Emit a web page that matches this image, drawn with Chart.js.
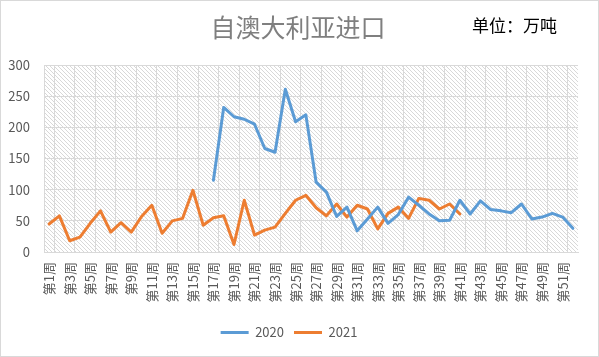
<!DOCTYPE html>
<html>
<head>
<meta charset="utf-8">
<script src="https://cdn.jsdelivr.net/npm/chart.js@4/dist/chart.umd.min.js"></script>
<style>
html,body{margin:0;padding:0;background:#fff;}
#wrap{width:599px;height:357px;position:relative;}
</style>
</head>
<body>
<div id="wrap"><canvas id="c" width="599" height="357"></canvas></div>
<script>
const weeks = [];
for (let i = 1; i <= 52; i++) weeks.push('第' + i + '周');

const series2020 = [
  null, null, null, null, null, null, null, null, null, null,
  null, null, null, null, null, null, 115, 232, 217, 213,
  205, 166, 160, 261, 209, 220, 112, 96, 57, 72,
  34, 53, 72, 46, 60, 88, 75, 61, 50, 51,
  83, 61, 82, 68, 66, 63, 77, 53, 56, 62,
  56, 38
];
const series2021 = [
  45, 58, 18, 24, 46, 66, 32, 47, 32, 57,
  75, 30, 50, 54, 99, 43, 55, 58, 12, 83,
  27, 35, 40, 62, 83, 91, 71, 58, 77, 56,
  75, 69, 37, 62, 72, 54, 86, 83, 69, 77,
  61
];
const yTicks = [0, 50, 100, 150, 200, 250, 300];

const FONT = '"Noto Sans CJK SC", "Noto Sans", sans-serif';

function makePattern(ctx) {
  const t = document.createElement('canvas');
  t.width = 4; t.height = 4;
  const tc = t.getContext('2d');
  tc.fillStyle = '#ffffff';
  tc.fillRect(0, 0, 4, 4);
  tc.fillStyle = '#d8d8d8';
  for (let i = 0; i < 4; i++) tc.fillRect(i, i, 1, 1);
  return ctx.createPattern(t, 'repeat');
}

const decor = {
  id: 'decor',
  beforeDraw(chart) {
    const ctx = chart.ctx;
    const a = chart.chartArea;
    ctx.save();
    ctx.fillStyle = '#ffffff';
    ctx.fillRect(0, 0, chart.width, chart.height);
    ctx.fillStyle = makePattern(ctx);
    ctx.fillRect(a.left, a.top, a.right - a.left, a.bottom - a.top);
    ctx.restore();
  },
  afterDraw(chart) {
    const ctx = chart.ctx;
    ctx.save();
    ctx.textBaseline = 'middle';
    ctx.textAlign = 'center';
    ctx.fillStyle = '#7f7f7f';
    ctx.font = '25px ' + FONT;
    ctx.fillText('自澳大利亚进口', 298, 27);
    ctx.textAlign = 'left';
    ctx.fillStyle = '#000000';
    ctx.font = '17px ' + FONT;
    ctx.fillText('单位：万吨', 472, 26);
    ctx.strokeStyle = '#d9d9d9';
    ctx.lineWidth = 1;
    ctx.strokeRect(0.5, 0.5, chart.width - 1, chart.height - 1);
    ctx.restore();
  }
};

new Chart(document.getElementById('c'), {
  type: 'line',
  data: {
    labels: weeks,
    datasets: [
      {
        label: '2020',
        data: series2020,
        borderColor: '#5B9BD5',
        backgroundColor: '#5B9BD5',
        borderWidth: 3,
        pointRadius: 0,
        pointHoverRadius: 0,
        tension: 0,
        borderJoinStyle: 'round',
        borderCapStyle: 'round',
        spanGaps: false
      },
      {
        label: '2021',
        data: series2021,
        borderColor: '#ED7D31',
        backgroundColor: '#ED7D31',
        borderWidth: 3,
        pointRadius: 0,
        pointHoverRadius: 0,
        tension: 0,
        borderJoinStyle: 'round',
        borderCapStyle: 'round'
      }
    ]
  },
  options: {
    responsive: false,
    animation: false,
    devicePixelRatio: 1,
    layout: { padding: { top: 65, left: 0, right: 21, bottom: 8 } },
    plugins: {
      title: { display: false },
      tooltip: { enabled: false },
      legend: {
        position: 'bottom',
        labels: {
          usePointStyle: true,
          pointStyle: 'line',
          pointStyleWidth: 28,
          color: '#595959',
          font: { family: FONT, size: 13 },
          padding: 10
        }
      }
    },
    scales: {
      x: {
        offset: true,
        grid: {
          offset: true,
          drawTicks: false,
          color: (c) => (c.index % 2 === 1 || c.index === 0 || c.index >= 52) ? '#d9d9d9' : 'rgba(0,0,0,0)',
          lineWidth: 1
        },
        border: { display: true, color: '#d9d9d9' },
        ticks: {
          autoSkip: false,
          maxRotation: 90,
          minRotation: 90,
          padding: 10,
          color: '#595959',
          font: { family: FONT, size: 13 },
          callback: function (v, i) { return i % 2 === 0 ? weeks[i] : ''; }
        },
        afterFit: (s) => { s.height = 64; }
      },
      y: {
        min: 0,
        max: 300,
        afterBuildTicks: (s) => { s.ticks = yTicks.map(v => ({ value: v })); },
        grid: { drawTicks: false, color: '#d9d9d9' },
        border: { display: false },
        ticks: {
          padding: 14,
          color: '#595959',
          font: { family: FONT, size: 13 }
        },
        afterFit: (s) => { s.width = 44; }
      }
    }
  },
  plugins: [decor]
});
</script>
</body>
</html>
